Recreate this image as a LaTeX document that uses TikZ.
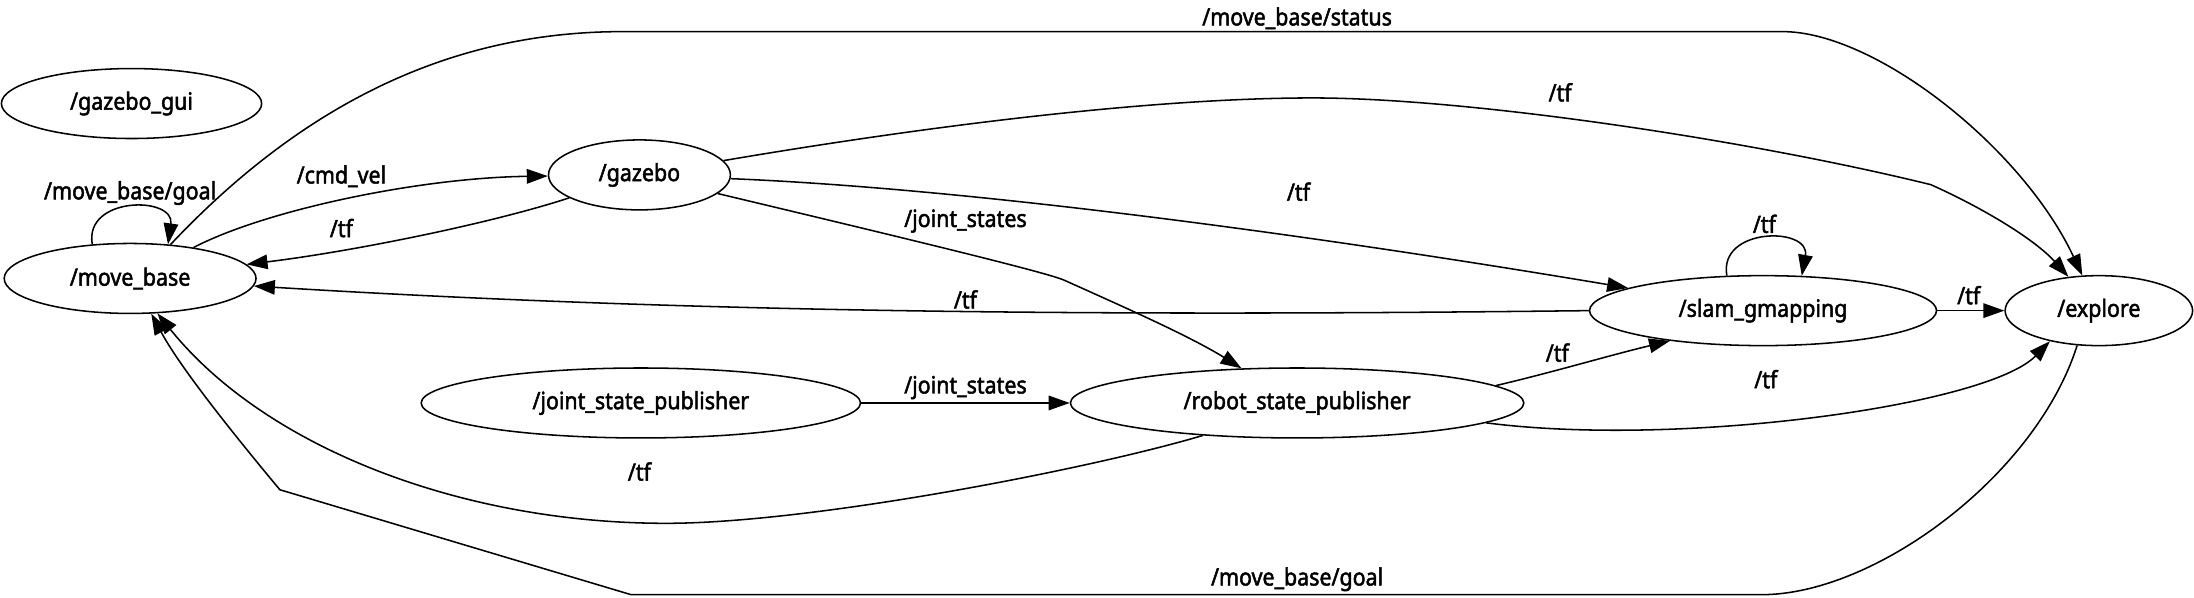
\documentclass[tikz,border=0pt]{standalone}
\usepackage{fontspec}
\setmainfont{Noto Sans}[FakeStretch=0.9,FakeBold=2]
\usetikzlibrary{shapes.geometric,arrows.meta}
\begin{document}
\begin{tikzpicture}[x=0.5pt,y=-0.5pt,
  every node/.style={font=\fontsize{8.5}{10}\selectfont},
  nd/.style={draw, ellipse, line width=0.55pt, inner sep=0pt, minimum height=25pt},
  lbl/.style={inner sep=0pt},
  arr/.style={line width=0.55pt, -{Triangle[length=7.5pt,width=5.2pt]}},
]
\useasboundingbox (0,0) rectangle (1568,427);
% nodes
\node[nd, minimum width=93pt]  (gui) at (94,74)   {/gazebo\_gui};
\node[nd, minimum width=90pt]  (mb)  at (93,199)  {/move\_base};
\node[nd, minimum width=65pt]  (gz)  at (457,125) {/gazebo};
\node[nd, minimum width=124pt] (sg)  at (1260,222) {/slam\_gmapping};
\node[nd, minimum width=67pt]  (ex)  at (1500,222) {/explore};
\node[nd, minimum width=157pt] (jsp) at (458,288) {/joint\_state\_publisher};
\node[nd, minimum width=162pt] (rsp) at (927,288) {/robot\_state\_publisher};
% edges
\draw[arr] (mb.138) .. controls (60,140) and (125,140) .. (mb.42);
\node[lbl] at (93,138) {/move\_base/goal};

\draw[arr] (mb.40) .. controls (230,60) and (340,22.6) .. (445,22.6) -- (1274,22.6)
  .. controls (1340,22.6) and (1445,105) .. (ex);
\node[lbl] at (927,13) {/move\_base/status};

\draw[arr] (gz) .. controls (657,91) and (820,70) .. (938,70)
  .. controls (1050,70) and (1250,100) .. (1380,132)
  .. controls (1420,150) and (1455,172) .. (ex);
\node[lbl] at (1115,66) {/tf};

\draw[arr] (mb.26) .. controls (190,150) and (300,127) .. (gz);
\node[lbl] at (244,126) {/cmd\_vel};

\draw[arr] (gz) .. controls (350,160) and (250,180) .. (mb);
\node[lbl] at (244,163) {/tf};

\draw[arr] (sg.west) .. controls (800,226) and (500,224) .. (mb);
\node[lbl] at (690,214) {/tf};

\draw[arr] (gz) .. controls (700,135) and (950,170) .. (sg);
\node[lbl] at (928,137) {/tf};

\draw[arr] (sg.136) .. controls (1228,162) and (1294,162) .. (sg.42);
\node[lbl] at (1261,160) {/tf};

\draw[arr] (sg) -- (ex);
\node[lbl] at (1407,211) {/tf};

\draw[arr] (gz) .. controls (650,171) and (745,194) .. (760,200)
  .. controls (800,218) and (850,240) .. (rsp);
\node[lbl] at (690,158) {/joint\_states};

\draw[arr] (jsp) -- (rsp);
\node[lbl] at (690,277) {/joint\_states};

\draw[arr] (rsp.5) .. controls (1110,266) and (1150,254) .. (sg.198);
\node[lbl] at (1113,252) {/tf};

\draw[arr] (rsp.-6) .. controls (1200,320) and (1420,290) .. (ex.212);
\node[lbl] at (1262,271) {/tf};

\draw[arr] (rsp.199) .. controls (780,335) and (580,374) .. (476,374)
  .. controls (330,374) and (190,320) .. (mb.-52);
\node[lbl] at (457,337) {/tf};

\draw[arr] (ex.238) .. controls (1455,340) and (1340,425) .. (1259,425) -- (451,425) -- (200,350)
  .. controls (175,320) and (130,265) .. (mb.-59);
\node[lbl] at (927,414) {/move\_base/goal};
\end{tikzpicture}
\end{document}
